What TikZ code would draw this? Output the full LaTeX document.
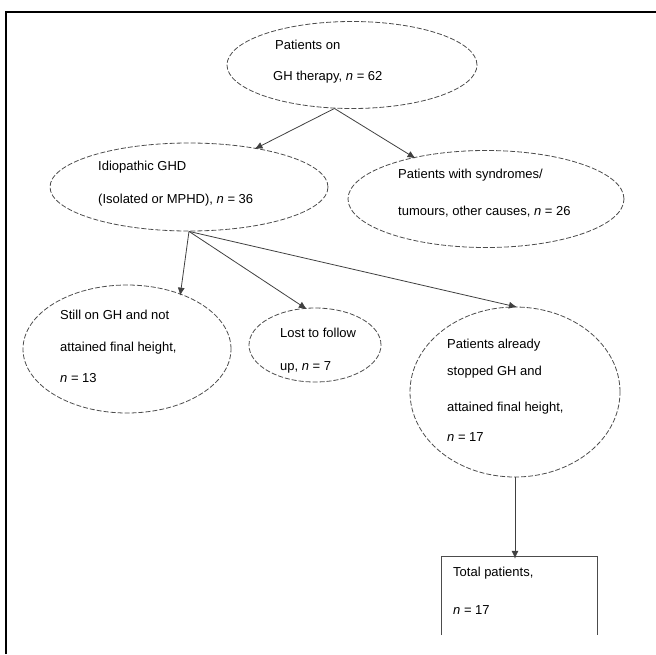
\documentclass[tikz,border=0pt]{standalone}
\usepackage{fontspec}
\setmainfont{Liberation Sans}
\usetikzlibrary{shapes.geometric,arrows.meta}
\tikzset{
    ellbox/.style={ellipse, draw=black!70, dash pattern=on 5pt off 2pt, line width=0.8pt, inner sep=0pt},
    txt/.style={anchor=west, inner sep=0pt, font=\fontsize{13}{15}\selectfont},
    flow/.style={-{Latex[length=8pt,width=7pt]}, draw=black!75, line width=0.8pt, shorten >=-2pt},
}

\begin{document}
\begin{tikzpicture}[x=1pt, y=-1pt]
        %page and frame
        \useasboundingbox (0,0) rectangle (656,654);
        \draw[line width=2pt] (6,654) -- (6,12) -- (656,12);
        %ellipses
        \node[ellbox, minimum width=250pt, minimum height=87pt] (top) at (352,65) {};
        \node[ellbox, minimum width=278pt, minimum height=88pt] (idio) at (189,187) {};
        \node[ellbox, minimum width=276pt, minimum height=97pt] (synd) at (486,199) {};
        \node[ellbox, minimum width=208pt, minimum height=128pt] (still) at (127,349) {};
        \node[ellbox, minimum width=132pt, minimum height=74pt] (lost) at (315,345) {};
        \node[ellbox, minimum width=210pt, minimum height=170pt] (stopped) at (515,392) {};
        %open box at the bottom
        \node[minimum width=155pt, minimum height=78pt, inner sep=0pt] (total) at (519.5,596) {};
        \draw[draw=black!70, line width=1pt] (total.south west) -- (total.north west) -- (total.north east) -- (total.south east);
        %texts
        \node[txt] (topa) at (275,45) {Patients on};
        \node[txt] (topb) at (273,77) {GH therapy, \textit{n} = 62};
        \node[txt] (idioa) at (98,167) {Idiopathic GHD};
        \node[txt] (idiob) at (98,200) {(Isolated or MPHD), \textit{n} = 36};
        \node[txt] (synda) at (398,175) {Patients with syndromes/};
        \node[txt] (syndb) at (398,212) {tumours, other causes, \textit{n} = 26};
        \node[txt] (stilla) at (60,315) {Still on GH and not};
        \node[txt] (stillb) at (60,348) {attained final height,};
        \node[txt] (stillc) at (60,378) {\textit{n} = 13};
        \node[txt] (losta) at (280,333) {Lost to follow};
        \node[txt] (lostb) at (280,367) {up, \textit{n} = 7};
        \node[txt] (stoppeda) at (447,345) {Patients already};
        \node[txt] (stoppedb) at (447,372) {stopped GH and};
        \node[txt] (stoppedc) at (447,408) {attained final height,};
        \node[txt] (stoppedd) at (447,437) {\textit{n} = 17};
        \node[txt] (totala) at (453,573) {Total patients,};
        \node[txt] (totalb) at (453,610) {\textit{n} = 17};
        %arrows
        \draw[flow] (top.-112) -- (idio.30);
        \draw[flow] (top.-112) -- (synd.150);
        \draw[flow] (idio.south) -- (still.46);
        \draw[flow] (idio.south) -- (lost.105);
        \draw[flow] (idio.south) -- (stopped.north);
        \draw[flow] (stopped.south) -- (stopped.south |- total.north);
    \end{tikzpicture}
\end{document}
